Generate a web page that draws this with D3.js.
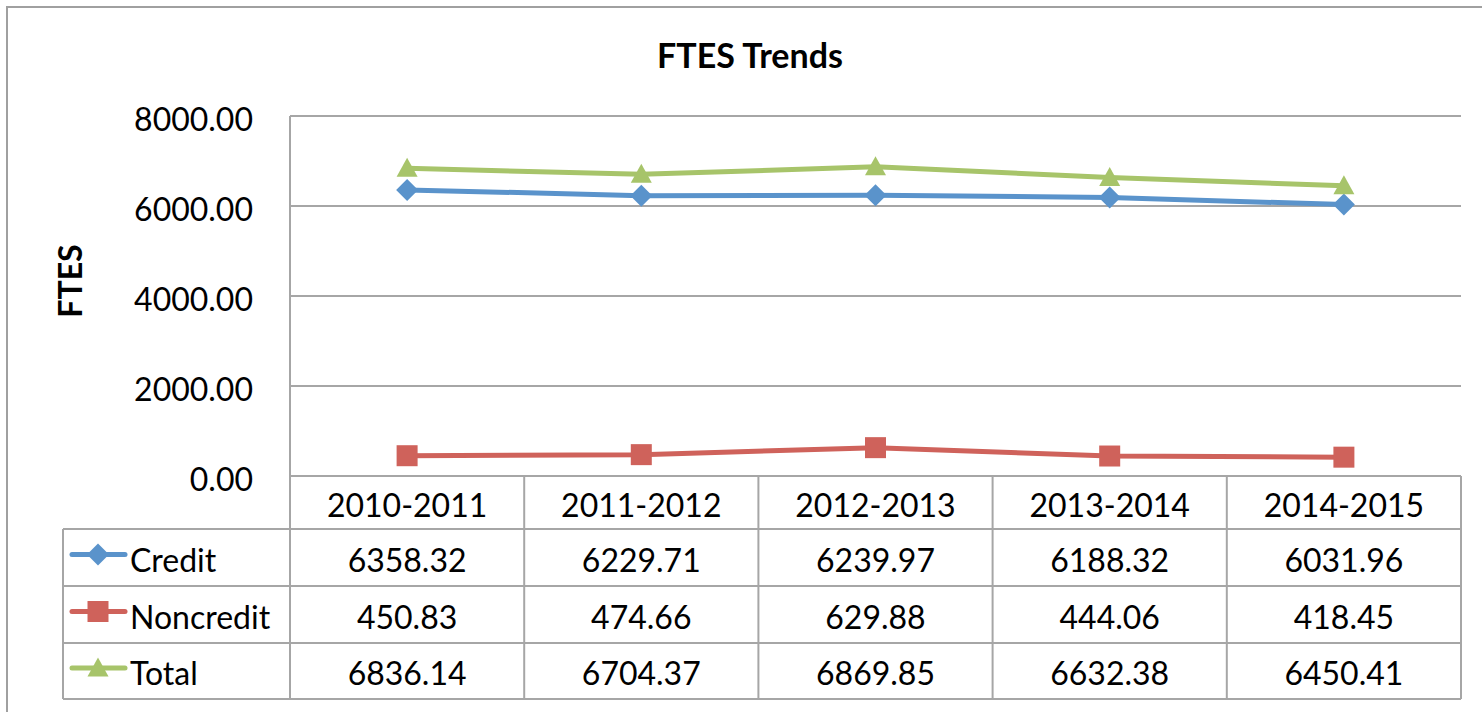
<!DOCTYPE html>
<html>
<head>
<meta charset="utf-8">
<script src="https://cdn.jsdelivr.net/npm/d3@7"></script>
<style>
  html, body { margin: 0; padding: 0; background: #fff; }
  svg { display: block; font-family: Lato, "Open Sans", sans-serif; }
</style>
</head>
<body>
<svg id="chart" width="1482" height="712"></svg>
<script>
// ── Data ─────────────────────────────────────────────
const years      = ['2010-2011', '2011-2012', '2012-2013', '2013-2014', '2014-2015'];
const credit     = [6358.32, 6229.71, 6239.97, 6188.32, 6031.96];
const noncredit  = [450.83, 474.66, 629.88, 444.06, 418.45];
const total      = [6836.14, 6704.37, 6869.85, 6632.38, 6450.41];
const yTicks     = [0, 2000, 4000, 6000, 8000];

const series = [
  { name: 'Credit',    values: credit,    color: '#5a93cb', marker: 'diamond' },
  { name: 'Noncredit', values: noncredit, color: '#cf625b', marker: 'square' },
  { name: 'Total',     values: total,     color: '#a7c46a', marker: 'triangle' },
];

// ── Layout ───────────────────────────────────────────
const W = 1482, H = 712;
const plot = { left: 290, right: 1461, top: 116, bottom: 476 };
const legendLeft = 63;
const rowEdges = [476, 529, 586, 643, 699];
const GRID = '#a6a6a6';

const svg = d3.select('#chart');

// outer chart border
svg.append('rect')
  .attr('x', 7).attr('y', 7).attr('width', W).attr('height', H)
  .attr('fill', 'none').attr('stroke', '#a0a0a0').attr('stroke-width', 2);

const x = d3.scaleBand().domain(years).range([plot.left, plot.right]);
const y = d3.scaleLinear().domain([0, 8000]).range([plot.bottom, plot.top]);

// title
svg.append('text')
  .attr('x', 750).attr('y', 68)
  .attr('text-anchor', 'middle')
  .attr('font-weight', 'bold').attr('font-size', 34)
  .text('FTES Trends');

// y label
svg.append('text')
  .attr('transform', 'translate(82,281) rotate(-90)')
  .attr('text-anchor', 'middle')
  .attr('font-weight', 'bold').attr('font-size', 32)
  .text('FTES');

// gridlines
svg.append('g').selectAll('line').data(yTicks.filter(d => d > 0)).join('line')
  .attr('x1', plot.left).attr('x2', plot.right)
  .attr('y1', d => y(d)).attr('y2', d => y(d))
  .attr('stroke', GRID).attr('stroke-width', 2);

// y tick labels
svg.append('g').selectAll('text').data(yTicks).join('text')
  .attr('x', 253).attr('y', d => y(d) + 15)
  .attr('text-anchor', 'end').attr('font-size', 32)
  .text(d => d3.format('.2f')(d));

// left axis line
svg.append('line')
  .attr('x1', plot.left).attr('x2', plot.left)
  .attr('y1', plot.top).attr('y2', rowEdges[4])
  .attr('stroke', GRID).attr('stroke-width', 2);

// ── Data table ───────────────────────────────────────
const tbl = svg.append('g');
// horizontal row lines
rowEdges.forEach((ry, i) => {
  tbl.append('line')
    .attr('x1', i === 0 ? plot.left : legendLeft).attr('x2', plot.right)
    .attr('y1', ry).attr('y2', ry)
    .attr('stroke', GRID).attr('stroke-width', 2);
});
// legend column left edge
tbl.append('line')
  .attr('x1', legendLeft).attr('x2', legendLeft)
  .attr('y1', rowEdges[1]).attr('y2', rowEdges[4])
  .attr('stroke', GRID).attr('stroke-width', 2);
// column separators
years.forEach(yr => {
  const cx = x(yr) + x.bandwidth();
  tbl.append('line')
    .attr('x1', cx).attr('x2', cx)
    .attr('y1', rowEdges[0]).attr('y2', rowEdges[4])
    .attr('stroke', GRID).attr('stroke-width', 2);
});
// header labels
tbl.selectAll('text.hdr').data(years).join('text')
  .attr('class', 'hdr')
  .attr('x', d => x(d) + x.bandwidth() / 2)
  .attr('y', (rowEdges[0] + rowEdges[1]) / 2 + 14)
  .attr('text-anchor', 'middle').attr('font-size', 32)
  .text(d => d);

function markerPath(type, s) {
  const h = s / 2;
  if (type === 'diamond') return `M0,${-h} L${h},0 L0,${h} L${-h},0 Z`;
  if (type === 'square') return `M${-h},${-h} H${h} V${h} H${-h} Z`;
  return `M0,${-h} L${h},${h * 0.8} L${-h},${h * 0.8} Z`;
}
const markerSize = { diamond: 22, square: 21, triangle: 21 };

series.forEach((s, si) => {
  const cy = (rowEdges[si + 1] + rowEdges[si + 2]) / 2;
  // legend key
  tbl.append('line')
    .attr('x1', 72).attr('x2', 125).attr('y1', cy - 3).attr('y2', cy - 3)
    .attr('stroke', s.color).attr('stroke-width', 5).attr('stroke-linecap', 'round');
  tbl.append('path')
    .attr('transform', `translate(98,${cy - 3})`)
    .attr('d', markerPath(s.marker, markerSize[s.marker]))
    .attr('fill', s.color);
  tbl.append('text')
    .attr('x', 130).attr('y', cy + 14)
    .attr('font-size', 32)
    .text(s.name);
  // values
  tbl.selectAll(null).data(s.values).join('text')
    .attr('x', (d, i) => x(years[i]) + x.bandwidth() / 2)
    .attr('y', cy + 14)
    .attr('text-anchor', 'middle').attr('font-size', 32)
    .text(d => d3.format('.2f')(d));
});

// ── Lines + markers ──────────────────────────────────
const line = d3.line()
  .x((d, i) => x(years[i]) + x.bandwidth() / 2)
  .y(d => y(d));

series.forEach(s => {
  svg.append('path')
    .datum(s.values)
    .attr('d', line)
    .attr('fill', 'none').attr('stroke', s.color).attr('stroke-width', 5)
    .attr('stroke-linejoin', 'round');
  svg.append('g').selectAll('path').data(s.values).join('path')
    .attr('transform', (d, i) => `translate(${x(years[i]) + x.bandwidth() / 2},${y(d)})`)
    .attr('d', markerPath(s.marker, markerSize[s.marker]))
    .attr('fill', s.color);
});
</script>
</body>
</html>
